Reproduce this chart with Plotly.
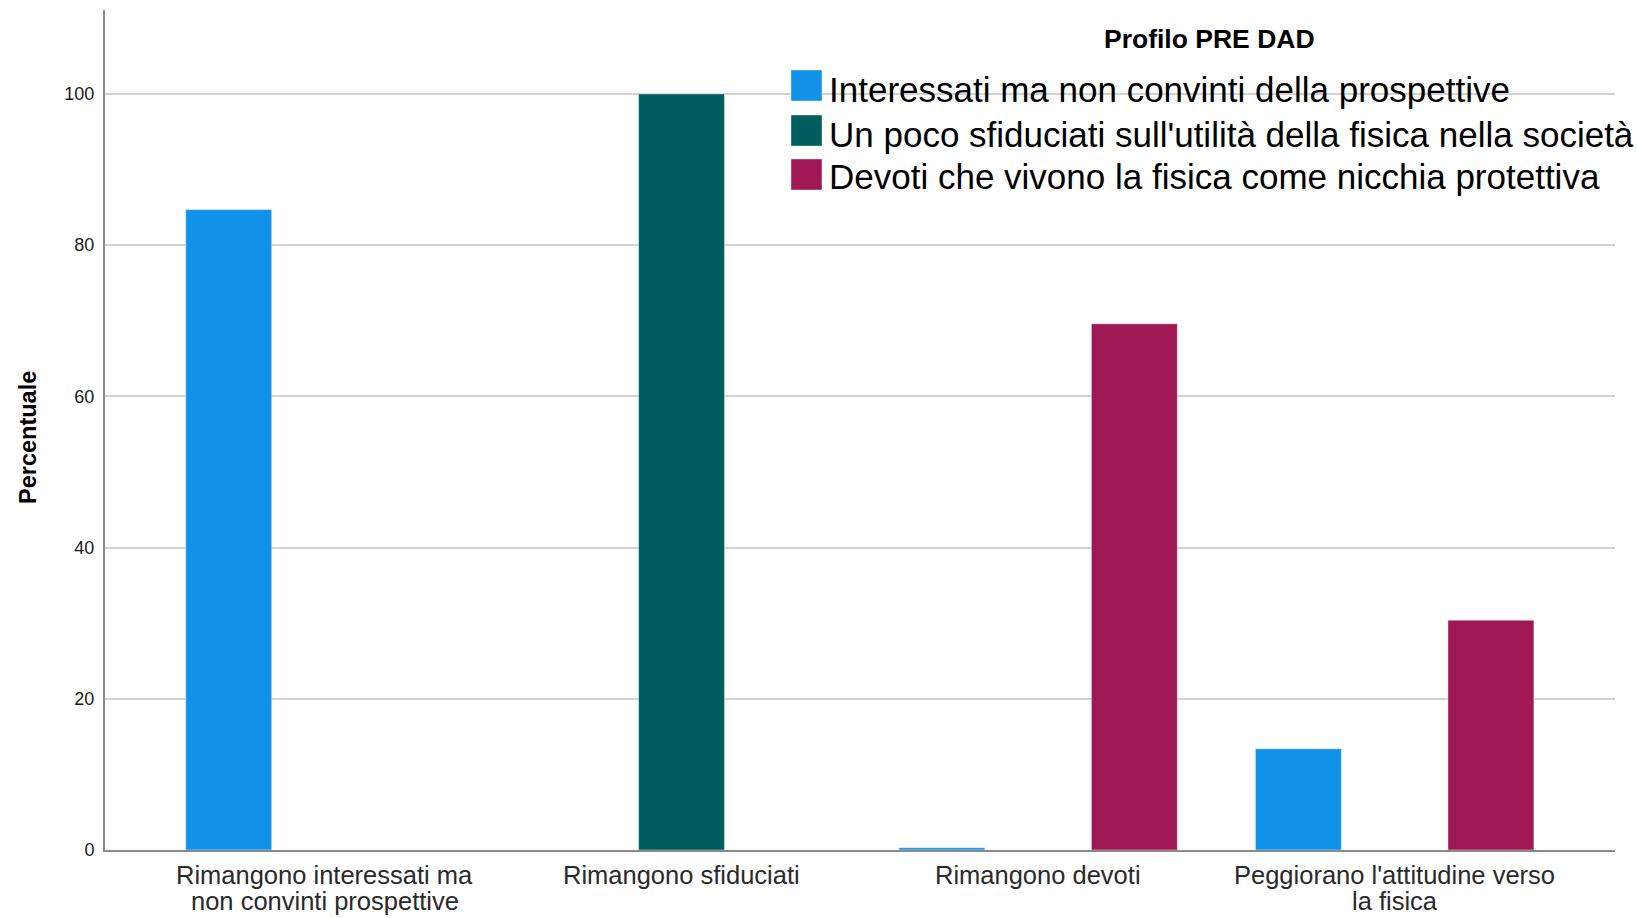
import plotly.graph_objects as go

categories = ["Rimangono interessati ma<br>non convinti prospettive",
              "Rimangono sfiduciati",
              "Rimangono devoti",
              "Peggiorano l'attitudine verso<br>la fisica"]
series_names = ["Interessati ma non convinti della prospettive",
                "Un poco sfiduciati sull'utilità della fisica nella società",
                "Devoti che vivono la fisica come nicchia protettiva"]
interessati = [84.7, None, 0.3, 13.4]
sfiduciati = [None, 100.0, None, None]
devoti = [None, None, 69.6, 30.4]
colors = ["#1192e8", "#005d5d", "#9f1853"]
y_ticks = [0, 20, 40, 60, 80, 100]
legend_title = "Profilo PRE DAD"
y_title = "Percentuale"

FONT = "Arial, Liberation Sans, sans-serif"
W, H = 1637, 918
ML, MR, MT, MB = 105, 22, 10, 68
PW, PH = W - ML - MR, H - MT - MB

fig = go.Figure()
for name, vals, col in zip(series_names, [interessati, sfiduciati, devoti], colors):
    fig.add_trace(go.Bar(x=categories, y=vals, name=name, marker_color=col,
                         marker_line=dict(color="rgba(255,255,255,0.45)", width=1),
                         showlegend=False))

def px_x(px):
    return (px - ML) / PW

def px_y(py):
    return (H - MB - py) / PH

shapes = []
annotations = []
# category labels (drawn at the category positions of the x axis)
for cat in categories:
    for i, line in enumerate(cat.split("<br>")):
        annotations.append(dict(text=line, xref="x", yref="paper", x=cat, y=0,
                                xanchor="center", yanchor="middle", yshift=-(25 + 26 * i),
                                showarrow=False,
                                font=dict(family=FONT, size=25.5, color="#2a2a2a")))
# legend title
annotations.append(dict(text="<b>" + legend_title + "</b>", xref="paper", yref="paper",
                        x=px_x(1209), y=px_y(39), xanchor="center", yanchor="middle",
                        showarrow=False, font=dict(family=FONT, size=26.5, color="#000000")))
rows = [(70, 101, 89), (115, 146, 134), (159, 190, 177)]
for (top, bot, mid), name, col in zip(rows, series_names, colors):
    shapes.append(dict(type="rect", xref="paper", yref="paper",
                       x0=px_x(791), x1=px_x(822), y0=px_y(bot), y1=px_y(top),
                       fillcolor=col, line=dict(color="rgba(255,255,255,0.4)", width=1)))
    annotations.append(dict(text=name, xref="paper", yref="paper",
                            x=px_x(827), y=px_y(mid), xanchor="left", yanchor="middle",
                            showarrow=False, font=dict(family=FONT, size=35, color="#000000")))
# y axis title
annotations.append(dict(text="<b>" + y_title + "</b>", xref="paper", yref="paper",
                        x=px_x(28), y=px_y(438), xanchor="center", yanchor="middle",
                        textangle=-90, showarrow=False,
                        font=dict(family=FONT, size=23.5, color="#000000")))

fig.update_layout(
    width=W, height=H,
    margin=dict(l=ML, r=MR, t=MT, b=MB, pad=0, autoexpand=False),
    paper_bgcolor="white", plot_bgcolor="white",
    barmode="group", bargap=0.19, bargroupgap=0.107,
    shapes=shapes, annotations=annotations,
    showlegend=False,
    font=dict(family=FONT),
)
fig.update_xaxes(range=[-0.617, 3.618], showline=True, linecolor="#8a8a8a", linewidth=2,
                 showgrid=False, ticks="", showticklabels=False, automargin=False,
                 fixedrange=True)
fig.update_yaxes(range=[0, 111.1], tickvals=y_ticks, showline=True, linecolor="#8a8a8a", linewidth=2,
                 showgrid=True, gridcolor="#d2d2d2", gridwidth=1.5, zeroline=False,
                 ticks="", tickfont=dict(family=FONT, size=18, color="#1a1a1a"),
                 ticklabelstandoff=5, automargin=False, fixedrange=True)

fig.write_html("out.html", config={"displayModeBar": False},
               post_script="document.body.style.margin='0';document.body.style.overflow='hidden';")
